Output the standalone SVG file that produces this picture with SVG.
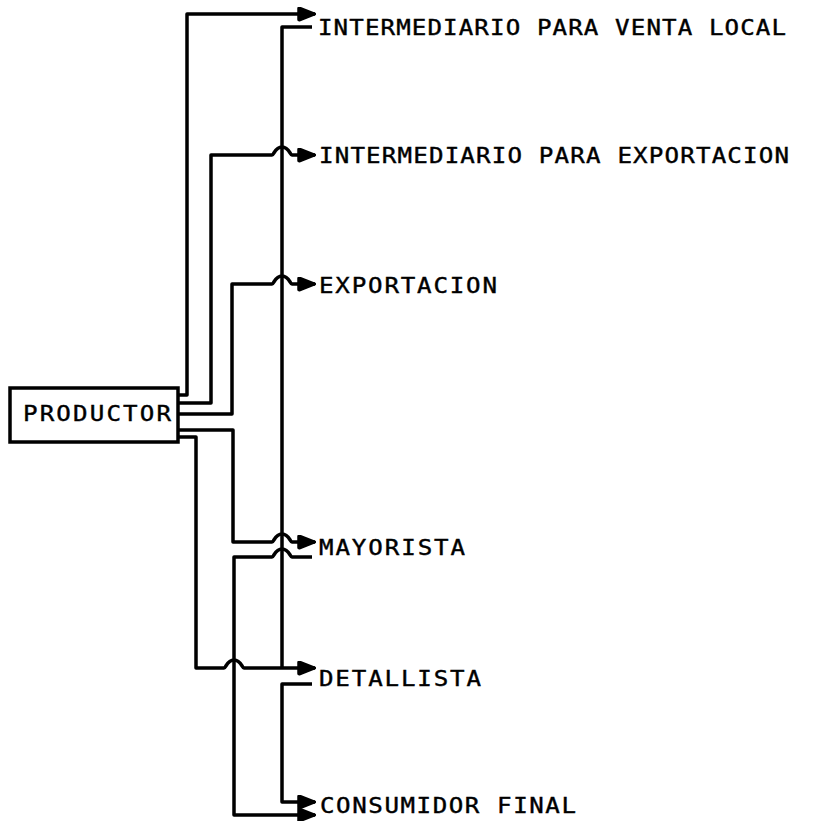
<svg xmlns="http://www.w3.org/2000/svg" width="840" height="821" viewBox="0 0 840 821">
<style>
.ln{fill:none;stroke:#000;stroke-width:3.5;stroke-linejoin:round;stroke-linecap:butt}
.ar{marker-end:url(#ah)}
.box{fill:#fff;stroke:#000;stroke-width:3.5}
.lb{font-family:"DejaVu Sans Mono","Liberation Mono",monospace;font-size:21px;fill:#000;stroke:#000;stroke-width:0.4}
</style>
<defs>
<marker id="ah" viewBox="0 0 19 15" refX="18" refY="7.5" markerWidth="19" markerHeight="15" markerUnits="userSpaceOnUse" orient="auto">
<path d="M1.5,2 Q1.5,1 3,1.5 L18,7.5 L3,13.5 Q1.5,14 1.5,13 Z" fill="#000" stroke="#000" stroke-width="2.5" stroke-linejoin="round"/>
</marker>
</defs>
<rect width="840" height="821" fill="#fff"/>
<g id="connectors">
<path class="ln ar" d="M178,395 H187 V14 H315"/>
<path class="ln ar" d="M178,403 H211 V155 H272 C274,155 275,147 282,147 C289,147 290,155 292,155 H315"/>
<path class="ln ar" d="M178,414 H232 V284 H272 C274,284 275,276 282,276 C289,276 290,284 292,284 H315"/>
<path class="ln ar" d="M178,430 H233 V542 H272 C274,542 275,534 282,534 C289,534 290,542 292,542 H315"/>
<path class="ln ar" d="M178,437 H196 V668 H224 C226,668 227,660 234,660 C241,660 242,668 244,668 H315"/>
<path class="ln" d="M312,27 H282 V668"/>
<path class="ln ar" d="M312,557 H292 C290,557 289,549 282,549 C275,549 274,557 272,557 H234 V815 H315"/>
<path class="ln ar" d="M312,684 H282 V802 H315"/>
</g>
<g id="productor">
<rect class="box" x="10" y="388" width="168" height="54"/>
<text class="lb" transform="translate(23,421) scale(1.15,1)" textLength="128.7" lengthAdjust="spacing">PRODUCTOR</text>
</g>
<g id="intermediario-venta-local">
<text class="lb" transform="translate(318,35) scale(1.15,1)" textLength="407" lengthAdjust="spacing">INTERMEDIARIO PARA VENTA LOCAL</text>
</g>
<g id="intermediario-exportacion">
<text class="lb" transform="translate(319,163) scale(1.15,1)" textLength="408.7" lengthAdjust="spacing">INTERMEDIARIO PARA EXPORTACION</text>
</g>
<g id="exportacion">
<text class="lb" transform="translate(319,293) scale(1.15,1)" textLength="154.8" lengthAdjust="spacing">EXPORTACION</text>
</g>
<g id="mayorista">
<text class="lb" transform="translate(319,555) scale(1.15,1)" textLength="127" lengthAdjust="spacing">MAYORISTA</text>
</g>
<g id="detallista">
<text class="lb" transform="translate(319,686) scale(1.15,1)" textLength="140.9" lengthAdjust="spacing">DETALLISTA</text>
</g>
<g id="consumidor-final">
<text class="lb" transform="translate(320,813) scale(1.15,1)" textLength="222.6" lengthAdjust="spacing">CONSUMIDOR FINAL</text>
</g>
</svg>
